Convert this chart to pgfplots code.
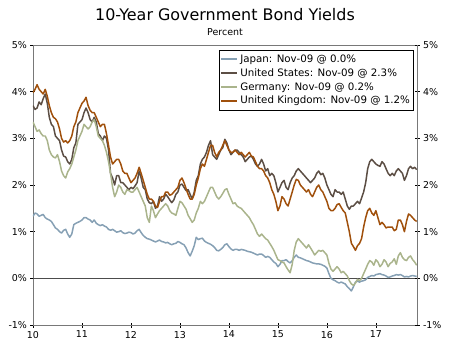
\documentclass[border=0pt]{standalone}
\usepackage{pgfplots}
\pgfplotsset{compat=1.18}
\usepackage{fontspec}
\setmainfont{DejaVu Sans}
\definecolor{cJP}{RGB}{134,160,180}
\definecolor{cUS}{RGB}{92,78,68}
\definecolor{cDE}{RGB}{170,180,140}
\definecolor{cUK}{RGB}{160,80,12}
\definecolor{cAx}{RGB}{120,120,120}
\begin{document}
\begin{tikzpicture}[x=1bp,y=1bp]
\path[use as bounding box] (-33,-24) rectangle (417,325);
\begin{axis}[
  at={(0,0)}, anchor=south west,
  scale only axis, width=384bp, height=280bp,
  xmin=10, xmax=17.84, ymin=-1, ymax=5,
  xtick={10,11,...,17}, ytick={-1,0,...,5},
  yticklabel={\pgfmathprintnumber{\tick}\%},
  /pgf/number format/assume math mode=true,
  ticklabel style={font=\fontsize{9.5}{11}\selectfont, text=black},
  axis line style={cAx, line width=0.9pt},
  tick style={black, line width=0.6pt},
  tick align=center, major tick length=5bp,
  xtick pos=bottom, ytick pos=left,
  clip=true,
  legend style={at={(0.99,0.982)}, anchor=north east, draw=black, line width=0.6pt,
    font=\fontsize{10.3}{12}\selectfont, row sep=0.6pt, inner xsep=1pt, inner ysep=2.5pt,
    cells={anchor=west}, /tikz/every even column/.append style={column sep=0pt}},
  legend image code/.code={\draw[#1, line width=2pt] (-2bp,0bp) -- (14bp,0bp);},
  every axis plot/.append style={line width=1.5pt, line join=round},
]
\draw[black!70, line width=0.8pt] (axis cs:10,0) -- (axis cs:17.84,0);
\addplot[cJP] coordinates {
(10.000,1.33)(10.042,1.40)(10.083,1.38)(10.125,1.33)(10.167,1.35)(10.208,1.37)(10.250,1.30)(10.292,1.27)(10.333,1.25)(10.375,1.22)(10.417,1.15)(10.458,1.08)(10.500,1.05)(10.542,1.00)(10.583,0.97)(10.625,1.03)(10.667,1.05)(10.708,0.95)(10.750,0.88)(10.792,0.95)(10.833,1.15)(10.875,1.18)(10.917,1.20)(10.958,1.22)
(11.000,1.25)(11.042,1.30)(11.083,1.30)(11.125,1.27)(11.167,1.25)(11.208,1.20)(11.250,1.25)(11.292,1.18)(11.333,1.15)(11.375,1.13)(11.417,1.15)(11.458,1.12)(11.500,1.10)(11.542,1.05)(11.583,1.03)(11.625,1.05)(11.667,1.02)(11.708,0.99)(11.750,1.00)(11.792,1.02)(11.833,0.98)(11.875,0.96)(11.917,0.97)(11.958,0.99)
(12.000,0.98)(12.042,0.95)(12.083,0.97)(12.125,1.02)(12.167,1.05)(12.208,0.98)(12.250,0.92)(12.292,0.88)(12.333,0.85)(12.375,0.84)(12.417,0.82)(12.458,0.80)(12.500,0.78)(12.542,0.80)(12.583,0.82)(12.625,0.79)(12.667,0.78)(12.708,0.76)(12.750,0.77)(12.792,0.74)(12.833,0.72)(12.875,0.74)(12.917,0.75)(12.958,0.79)
(13.000,0.77)(13.042,0.74)(13.083,0.72)(13.125,0.65)(13.167,0.55)(13.208,0.48)(13.250,0.58)(13.292,0.70)(13.333,0.88)(13.375,0.83)(13.417,0.85)(13.458,0.86)(13.500,0.80)(13.542,0.77)(13.583,0.75)(13.625,0.73)(13.667,0.70)(13.708,0.66)(13.750,0.60)(13.792,0.59)(13.833,0.62)(13.875,0.66)(13.917,0.72)(13.958,0.74)
(14.000,0.68)(14.042,0.63)(14.083,0.60)(14.125,0.62)(14.167,0.62)(14.208,0.60)(14.250,0.62)(14.292,0.61)(14.333,0.60)(14.375,0.58)(14.417,0.57)(14.458,0.56)(14.500,0.54)(14.542,0.52)(14.583,0.50)(14.625,0.52)(14.667,0.52)(14.708,0.49)(14.750,0.45)(14.792,0.47)(14.833,0.45)(14.875,0.40)(14.917,0.35)(14.958,0.32)
(15.000,0.25)(15.042,0.30)(15.083,0.38)(15.125,0.38)(15.167,0.40)(15.208,0.36)(15.250,0.33)(15.292,0.38)(15.333,0.45)(15.375,0.50)(15.417,0.45)(15.458,0.44)(15.500,0.42)(15.542,0.40)(15.583,0.38)(15.625,0.37)(15.667,0.35)(15.708,0.33)(15.750,0.32)(15.792,0.31)(15.833,0.31)(15.875,0.30)(15.917,0.28)(15.958,0.26)
(16.000,0.22)(16.042,0.10)(16.083,0.00)(16.125,-0.03)(16.167,-0.05)(16.208,-0.08)(16.250,-0.10)(16.292,-0.08)(16.333,-0.10)(16.375,-0.12)(16.417,-0.18)(16.458,-0.22)(16.500,-0.27)(16.542,-0.18)(16.583,-0.08)(16.625,-0.06)(16.667,-0.08)(16.708,-0.06)(16.750,-0.05)(16.792,-0.03)(16.833,0.02)(16.875,0.04)(16.917,0.06)(16.958,0.05)
(17.000,0.08)(17.042,0.09)(17.083,0.10)(17.125,0.08)(17.167,0.07)(17.208,0.05)(17.250,0.02)(17.292,0.03)(17.333,0.05)(17.375,0.06)(17.417,0.08)(17.458,0.07)(17.500,0.08)(17.542,0.06)(17.583,0.03)(17.625,0.04)(17.667,0.03)(17.708,0.05)(17.750,0.06)(17.792,0.05)(17.833,0.04)
};
\addlegendentry{Japan: Nov-09 @ 0.0\%}
\addplot[cUS] coordinates {
(10.000,3.70)(10.042,3.62)(10.083,3.65)(10.125,3.78)(10.167,3.72)(10.208,3.85)(10.250,3.95)(10.292,3.75)(10.333,3.45)(10.375,3.30)(10.417,3.25)(10.458,3.05)(10.500,3.00)(10.542,2.95)(10.583,2.75)(10.625,2.62)(10.667,2.60)(10.708,2.50)(10.750,2.45)(10.792,2.55)(10.833,2.80)(10.875,2.90)(10.917,3.30)(10.958,3.35)
(11.000,3.40)(11.042,3.55)(11.083,3.65)(11.125,3.55)(11.167,3.40)(11.208,3.35)(11.250,3.45)(11.292,3.35)(11.333,3.10)(11.375,3.05)(11.417,2.95)(11.458,3.05)(11.500,3.00)(11.542,2.75)(11.583,2.25)(11.625,2.15)(11.667,2.00)(11.708,2.20)(11.750,2.20)(11.792,2.05)(11.833,2.05)(11.875,2.00)(11.917,1.95)(11.958,1.90)
(12.000,1.95)(12.042,1.92)(12.083,1.98)(12.125,2.05)(12.167,2.30)(12.208,2.15)(12.250,1.95)(12.292,1.90)(12.333,1.70)(12.375,1.62)(12.417,1.60)(12.458,1.65)(12.500,1.50)(12.542,1.55)(12.583,1.75)(12.625,1.65)(12.667,1.70)(12.708,1.80)(12.750,1.75)(12.792,1.68)(12.833,1.62)(12.875,1.68)(12.917,1.80)(12.958,1.85)
(13.000,2.00)(13.042,2.02)(13.083,1.95)(13.125,1.88)(13.167,1.90)(13.208,1.80)(13.250,1.70)(13.292,1.85)(13.333,2.10)(13.375,2.20)(13.417,2.45)(13.458,2.55)(13.500,2.60)(13.542,2.70)(13.583,2.85)(13.625,2.95)(13.667,2.65)(13.708,2.60)(13.750,2.55)(13.792,2.65)(13.833,2.75)(13.875,2.80)(13.917,2.98)(13.958,2.90)
(14.000,2.75)(14.042,2.65)(14.083,2.70)(14.125,2.75)(14.167,2.75)(14.208,2.70)(14.250,2.65)(14.292,2.60)(14.333,2.50)(14.375,2.55)(14.417,2.60)(14.458,2.62)(14.500,2.55)(14.542,2.45)(14.583,2.40)(14.625,2.45)(14.667,2.55)(14.708,2.45)(14.750,2.30)(14.792,2.35)(14.833,2.20)(14.875,2.25)(14.917,2.20)(14.958,2.05)
(15.000,1.85)(15.042,1.95)(15.083,2.05)(15.125,2.10)(15.167,1.95)(15.208,1.90)(15.250,2.05)(15.292,2.15)(15.333,2.20)(15.375,2.30)(15.417,2.35)(15.458,2.30)(15.500,2.25)(15.542,2.20)(15.583,2.15)(15.625,2.10)(15.667,2.05)(15.708,2.10)(15.750,2.15)(15.792,2.25)(15.833,2.30)(15.875,2.22)(15.917,2.25)(15.958,2.15)
(16.000,2.00)(16.042,1.90)(16.083,1.80)(16.125,1.75)(16.167,1.90)(16.208,1.85)(16.250,1.85)(16.292,1.80)(16.333,1.85)(16.375,1.70)(16.417,1.55)(16.458,1.48)(16.500,1.55)(16.542,1.55)(16.583,1.60)(16.625,1.65)(16.667,1.60)(16.708,1.72)(16.750,1.85)(16.792,2.05)(16.833,2.35)(16.875,2.50)(16.917,2.55)(16.958,2.50)
(17.000,2.45)(17.042,2.42)(17.083,2.40)(17.125,2.50)(17.167,2.45)(17.208,2.35)(17.250,2.25)(17.292,2.20)(17.333,2.25)(17.375,2.20)(17.417,2.30)(17.458,2.35)(17.500,2.30)(17.542,2.25)(17.583,2.10)(17.625,2.20)(17.667,2.35)(17.708,2.40)(17.750,2.35)(17.792,2.38)(17.833,2.33)
};
\addlegendentry{United States: Nov-09 @ 2.3\%}
\addplot[cDE] coordinates {
(10.000,3.35)(10.042,3.25)(10.083,3.15)(10.125,3.18)(10.167,3.10)(10.208,3.05)(10.250,3.05)(10.292,2.95)(10.333,2.75)(10.375,2.65)(10.417,2.60)(10.458,2.58)(10.500,2.65)(10.542,2.50)(10.583,2.30)(10.625,2.20)(10.667,2.15)(10.708,2.28)(10.750,2.35)(10.792,2.45)(10.833,2.60)(10.875,2.75)(10.917,2.95)(10.958,3.05)
(11.000,3.15)(11.042,3.30)(11.083,3.25)(11.125,3.20)(11.167,3.25)(11.208,3.35)(11.250,3.40)(11.292,3.25)(11.333,3.05)(11.375,3.00)(11.417,2.95)(11.458,2.85)(11.500,2.70)(11.542,2.50)(11.583,2.25)(11.625,1.95)(11.667,1.75)(11.708,1.85)(11.750,2.00)(11.792,1.95)(11.833,1.85)(11.875,1.80)(11.917,1.90)(11.958,1.88)
(12.000,1.85)(12.042,1.85)(12.083,1.90)(12.125,1.95)(12.167,1.85)(12.208,1.75)(12.250,1.65)(12.292,1.55)(12.333,1.30)(12.375,1.20)(12.417,1.55)(12.458,1.45)(12.500,1.30)(12.542,1.38)(12.583,1.45)(12.625,1.50)(12.667,1.55)(12.708,1.60)(12.750,1.55)(12.792,1.45)(12.833,1.40)(12.875,1.38)(12.917,1.35)(12.958,1.50)
(13.000,1.65)(13.042,1.62)(13.083,1.55)(13.125,1.48)(13.167,1.35)(13.208,1.28)(13.250,1.20)(13.292,1.25)(13.333,1.40)(13.375,1.50)(13.417,1.65)(13.458,1.60)(13.500,1.65)(13.542,1.75)(13.583,1.85)(13.625,1.95)(13.667,1.95)(13.708,1.85)(13.750,1.75)(13.792,1.70)(13.833,1.75)(13.875,1.82)(13.917,1.90)(13.958,1.92)
(14.000,1.80)(14.042,1.70)(14.083,1.60)(14.125,1.62)(14.167,1.55)(14.208,1.52)(14.250,1.50)(14.292,1.45)(14.333,1.40)(14.375,1.35)(14.417,1.30)(14.458,1.22)(14.500,1.15)(14.542,1.05)(14.583,0.95)(14.625,0.90)(14.667,0.95)(14.708,0.90)(14.750,0.85)(14.792,0.82)(14.833,0.75)(14.875,0.68)(14.917,0.60)(14.958,0.50)
(15.000,0.40)(15.042,0.38)(15.083,0.35)(15.125,0.33)(15.167,0.25)(15.208,0.18)(15.250,0.12)(15.292,0.30)(15.333,0.60)(15.375,0.78)(15.417,0.85)(15.458,0.80)(15.500,0.75)(15.542,0.70)(15.583,0.65)(15.625,0.72)(15.667,0.65)(15.708,0.58)(15.750,0.50)(15.792,0.55)(15.833,0.60)(15.875,0.58)(15.917,0.60)(15.958,0.55)
(16.000,0.50)(16.042,0.32)(16.083,0.20)(16.125,0.15)(16.167,0.20)(16.208,0.25)(16.250,0.20)(16.292,0.12)(16.333,0.15)(16.375,0.10)(16.417,0.05)(16.458,-0.05)(16.500,-0.12)(16.542,-0.15)(16.583,-0.10)(16.625,-0.02)(16.667,-0.05)(16.708,0.00)(16.750,0.10)(16.792,0.20)(16.833,0.30)(16.875,0.38)(16.917,0.35)(16.958,0.28)
(17.000,0.40)(17.042,0.35)(17.083,0.25)(17.125,0.30)(17.167,0.40)(17.208,0.35)(17.250,0.25)(17.292,0.32)(17.333,0.35)(17.375,0.42)(17.417,0.30)(17.458,0.48)(17.500,0.55)(17.542,0.45)(17.583,0.40)(17.625,0.38)(17.667,0.45)(17.708,0.48)(17.750,0.40)(17.792,0.35)(17.833,0.28)
};
\addlegendentry{Germany: Nov-09 @ 0.2\%}
\addplot[cUK] coordinates {
(10.000,3.98)(10.042,4.05)(10.083,4.15)(10.125,4.05)(10.167,4.00)(10.208,3.95)(10.250,4.05)(10.292,3.90)(10.333,3.70)(10.375,3.55)(10.417,3.45)(10.458,3.42)(10.500,3.35)(10.542,3.20)(10.583,3.00)(10.625,2.92)(10.667,2.95)(10.708,2.90)(10.750,2.95)(10.792,3.05)(10.833,3.25)(10.875,3.35)(10.917,3.55)(10.958,3.65)
(11.000,3.75)(11.042,3.80)(11.083,3.88)(11.125,3.70)(11.167,3.60)(11.208,3.55)(11.250,3.55)(11.292,3.45)(11.333,3.35)(11.375,3.25)(11.417,3.30)(11.458,3.30)(11.500,3.10)(11.542,2.85)(11.583,2.60)(11.625,2.45)(11.667,2.50)(11.708,2.55)(11.750,2.55)(11.792,2.45)(11.833,2.30)(11.875,2.25)(11.917,2.25)(11.958,2.15)
(12.000,2.05)(12.042,2.10)(12.083,2.15)(12.125,2.25)(12.167,2.38)(12.208,2.25)(12.250,2.10)(12.292,1.95)(12.333,1.80)(12.375,1.70)(12.417,1.70)(12.458,1.65)(12.500,1.55)(12.542,1.52)(12.583,1.65)(12.625,1.75)(12.667,1.75)(12.708,1.85)(12.750,1.85)(12.792,1.78)(12.833,1.80)(12.875,1.85)(12.917,1.90)(12.958,1.95)
(13.000,2.10)(13.042,2.15)(13.083,2.05)(13.125,1.92)(13.167,1.80)(13.208,1.70)(13.250,1.70)(13.292,1.80)(13.333,2.00)(13.375,2.15)(13.417,2.35)(13.458,2.45)(13.500,2.40)(13.542,2.55)(13.583,2.70)(13.625,2.85)(13.667,2.85)(13.708,2.70)(13.750,2.60)(13.792,2.70)(13.833,2.75)(13.875,2.85)(13.917,2.95)(13.958,2.85)
(14.000,2.75)(14.042,2.70)(14.083,2.70)(14.125,2.75)(14.167,2.70)(14.208,2.65)(14.250,2.70)(14.292,2.65)(14.333,2.60)(14.375,2.65)(14.417,2.70)(14.458,2.62)(14.500,2.60)(14.542,2.50)(14.583,2.40)(14.625,2.35)(14.667,2.35)(14.708,2.30)(14.750,2.20)(14.792,2.15)(14.833,2.05)(14.875,1.90)(14.917,1.80)(14.958,1.65)
(15.000,1.45)(15.042,1.55)(15.083,1.75)(15.125,1.70)(15.167,1.60)(15.208,1.55)(15.250,1.70)(15.292,1.85)(15.333,2.00)(15.375,2.12)(15.417,2.10)(15.458,2.00)(15.500,1.95)(15.542,1.90)(15.583,1.85)(15.625,1.90)(15.667,1.80)(15.708,1.75)(15.750,1.85)(15.792,1.95)(15.833,2.00)(15.875,1.90)(15.917,1.85)(15.958,1.75)
(16.000,1.65)(16.042,1.50)(16.083,1.45)(16.125,1.45)(16.167,1.50)(16.208,1.58)(16.250,1.60)(16.292,1.52)(16.333,1.45)(16.375,1.40)(16.417,1.20)(16.458,1.00)(16.500,0.75)(16.542,0.68)(16.583,0.60)(16.625,0.70)(16.667,0.75)(16.708,0.85)(16.750,1.10)(16.792,1.30)(16.833,1.45)(16.875,1.50)(16.917,1.40)(16.958,1.35)
(17.000,1.45)(17.042,1.30)(17.083,1.15)(17.125,1.20)(17.167,1.15)(17.208,1.08)(17.250,1.10)(17.292,1.10)(17.333,1.10)(17.375,1.02)(17.417,1.05)(17.458,1.25)(17.500,1.25)(17.542,1.15)(17.583,1.00)(17.625,1.22)(17.667,1.38)(17.708,1.35)(17.750,1.30)(17.792,1.25)(17.833,1.22)
};
\addlegendentry{United Kingdom: Nov-09 @ 1.2\%}
\end{axis}
\begin{axis}[
  at={(0,0)}, anchor=south west,
  scale only axis, width=384bp, height=280bp,
  xmin=10, xmax=17.84, ymin=-1, ymax=5,
  ytick={-1,0,...,5},
  yticklabel={\pgfmathprintnumber{\tick}\%},
  /pgf/number format/assume math mode=true,
  ticklabel style={font=\fontsize{9.5}{11}\selectfont, text=black},
  axis x line=none, axis y line*=right,
  axis line style={cAx, line width=0.9pt, -},
  tick style={black, line width=0.6pt},
  tick align=center, major tick length=5bp,
]
\end{axis}
\node[font=\fontsize{16}{18}\selectfont] at (192,310) {10-Year Government Bond Yields};
\node[font=\fontsize{9.5}{11}\selectfont] at (192,293) {Percent};
\end{tikzpicture}
\end{document}
